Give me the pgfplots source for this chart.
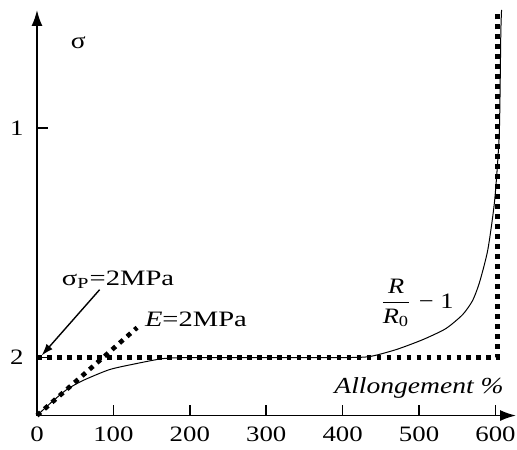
\documentclass[border=0pt]{standalone}
\usepackage{fontspec}
\setmainfont{Liberation Serif}
\usepackage{pgfplots}
\pgfplotsset{compat=1.18}
\usetikzlibrary{arrows.meta}
\begin{document}
\begin{tikzpicture}
\begin{axis}[
  x=0.3825pt, y=0.5pt,
  xmin=0, xmax=627, ymin=0, ymax=406,
  axis lines=left,
  axis line style={line width=0.9pt, -{Latex[length=8pt,width=5.5pt]}},
  clip=false,
  xtick={100,200,300,400,500,600},
  extra x ticks={0}, extra x tick style={major tick length=0pt},
  ytick={58,288}, yticklabels={2,1},
  tick align=inside,
  major tick length=5.5pt,
  tick style={line width=0.8pt, black},
  /pgf/number format/assume math mode=true,
  tick label style={font=\fontsize{11}{12}\selectfont, xscale=1.22},
  xticklabel style={yshift=-4.5pt, inner xsep=0pt, inner ysep=1pt},
  yticklabel style={xshift=-2pt},
]
% sigma_P horizontal + vertical dotted
\addplot[line width=2.3pt, dash pattern=on 2.4pt off 2.6pt, black] coordinates {(0,58) (603,58) (603,406)};
% E line
\addplot[line width=2.3pt, dash pattern=on 2.4pt off 2.6pt, black] coordinates {(0,0) (131,88)};
% R/R0 - 1 curve
\addplot[line width=0.5pt, black, smooth, tension=0.4] coordinates {
(0,0) (20,14) (39,26) (60,35) (95,46) (130,52) (165,57) (200,58) (300,58) (400,58)
(435,59) (470,66) (505,76) (535,87) (557,101) (570,115) (579,133) (590,166)
(599,216) (605,283) (607,383) (608,406)};
\node[font=\fontsize{11.5}{12}\selectfont, xscale=1.2] at (axis cs:54,373) {σ};
\node[font=\fontsize{11}{12}\selectfont, xscale=1.3] at (axis cs:106,136) {σ\textsubscript{P}=2MPa};
\node[font=\fontsize{11}{12}\selectfont, xscale=1.3] at (axis cs:208,96) {\textit{E}=2MPa};
\draw[line width=0.7pt, -{Latex[length=6pt,width=4pt]}] (axis cs:82,126) -- (axis cs:6,60);
\node[font=\fontsize{11}{12}\selectfont, xscale=1.2] at (axis cs:497,113) {$\displaystyle\frac{\mbox{\textit{R}}}{\mbox{\textit{R}\textsubscript{0}}}\mbox{ − 1}$};
\node[font=\fontsize{11.5}{12}\selectfont\itshape, xscale=1.2] at (axis cs:500,28) {Allongement \%};
\path (axis cs:-48.4,-34) rectangle (axis cs:627,416);
\end{axis}
\end{tikzpicture}
\end{document}
